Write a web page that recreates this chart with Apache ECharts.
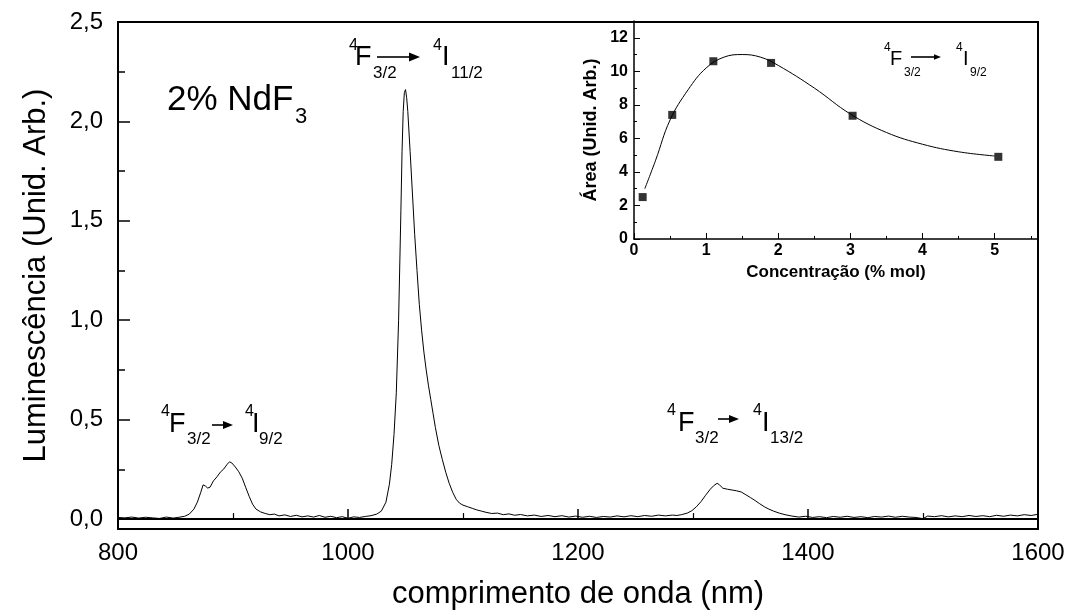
<!DOCTYPE html>
<html>
<head>
<meta charset="utf-8">
<title>Luminescência NdF3</title>
<script src="https://cdn.jsdelivr.net/npm/echarts@6.0.0/dist/echarts.min.js"></script>
<style>
  html, body { margin: 0; padding: 0; background: #fff; }
  #chart { width: 1072px; height: 616px; }
</style>
</head>
<body>
<div id="chart"></div>
<script>
// espectro principal (nm / unid. arb.)
const wavelength = [
  800, 806, 812, 818, 824, 830, 836, 842, 848, 853,
  858, 862, 866, 869, 872, 874, 876, 878, 880, 883,
  886, 889, 892, 895, 897, 899, 902, 905, 908, 911,
  914, 917, 920, 924, 928, 932, 936, 940, 945, 950,
  955, 960, 965, 970, 975, 980, 985, 990, 995, 1000,
  1005, 1010, 1015, 1020, 1025, 1029, 1033, 1036, 1038, 1040,
  1042, 1044, 1046, 1047, 1048, 1049, 1050, 1051, 1052, 1054,
  1056, 1058, 1060, 1062, 1064, 1066, 1068, 1070, 1072, 1074,
  1076, 1079, 1082, 1085, 1088, 1091, 1094, 1097, 1100, 1104,
  1108, 1112, 1116, 1120, 1125, 1130, 1135, 1140, 1145, 1150,
  1156, 1162, 1168, 1174, 1180, 1186, 1192, 1198, 1204, 1210,
  1216, 1222, 1228, 1234, 1240, 1246, 1252, 1258, 1264, 1270,
  1276, 1282, 1286, 1290, 1295, 1299, 1303, 1307, 1311, 1315,
  1318, 1321, 1323, 1326, 1330, 1334, 1338, 1342, 1346, 1350,
  1354, 1358, 1362, 1366, 1370, 1375, 1380, 1386, 1392, 1398,
  1404, 1410, 1416, 1422, 1428, 1434, 1440, 1446, 1452, 1458,
  1464, 1470, 1476, 1482, 1488, 1494, 1500, 1504, 1510, 1516,
  1522, 1528, 1534, 1540, 1546, 1552, 1558, 1564, 1570, 1576,
  1582, 1588, 1594, 1600
]
const luminescence = [
  0.008, 0.006, 0.010, 0.005, 0.009, 0.006, 0.003, 0.010, 0.005, 0.009,
  0.014, 0.025, 0.050, 0.085, 0.135, 0.172, 0.166, 0.156, 0.160, 0.192,
  0.212, 0.236, 0.252, 0.276, 0.288, 0.282, 0.262, 0.238, 0.206, 0.160,
  0.115, 0.075, 0.050, 0.036, 0.028, 0.022, 0.025, 0.016, 0.021, 0.013,
  0.019, 0.011, 0.016, 0.010, 0.018, 0.009, 0.014, 0.007, 0.012, 0.004,
  0.011, 0.008, 0.013, 0.017, 0.025, 0.040, 0.085, 0.175, 0.275, 0.425,
  0.635, 1.000, 1.550, 1.850, 2.050, 2.145, 2.160, 2.120, 2.050, 1.850,
  1.640, 1.430, 1.250, 1.080, 0.950, 0.840, 0.750, 0.670, 0.600, 0.530,
  0.460, 0.370, 0.300, 0.235, 0.180, 0.135, 0.100, 0.080, 0.070, 0.062,
  0.054, 0.046, 0.040, 0.034, 0.028, 0.030, 0.022, 0.026, 0.019, 0.023,
  0.016, 0.020, 0.013, 0.018, 0.012, 0.017, 0.010, 0.015, 0.009, 0.014,
  0.008, 0.013, 0.010, 0.016, 0.011, 0.017, 0.012, 0.018, 0.014, 0.020,
  0.016, 0.020, 0.018, 0.022, 0.030, 0.042, 0.062, 0.088, 0.120, 0.150,
  0.168, 0.180, 0.172, 0.155, 0.150, 0.146, 0.142, 0.136, 0.122, 0.108,
  0.093, 0.077, 0.062, 0.050, 0.040, 0.030, 0.022, 0.015, 0.010, 0.014,
  0.008, 0.012, 0.007, 0.013, 0.009, 0.014, 0.008, 0.012, 0.007, 0.013,
  0.010, 0.015, 0.009, 0.014, 0.010, 0.008, 0.002, 0.015, 0.012, 0.017,
  0.011, 0.016, 0.012, 0.018, 0.013, 0.017, 0.012, 0.019, 0.014, 0.020,
  0.016, 0.022, 0.018, 0.024
]
const yTicks = [0, 0.5, 1, 1.5, 2, 2.5]
const yMinorTicks = [0.25, 0.75, 1.25, 1.75, 2.25]

// inset: área da banda 4F3/2 -> 4I9/2 vs concentração
const concentration = [0.12, 0.53, 1.1, 1.9, 3.03, 5.05]
const area = [2.5, 7.4, 10.6, 10.5, 7.35, 4.9]
const fitConcentration = [0.15, 0.3, 0.5, 0.75, 1.0, 1.25, 1.5, 1.75, 2.0, 2.5, 3.0, 3.5, 4.0, 4.5, 5.0]
const fitArea = [3.0, 4.7, 7.1, 8.9, 10.2, 10.85, 11.0, 10.85, 10.35, 9.0, 7.45, 6.35, 5.65, 5.2, 4.95]
const insetXTicks = [0, 1, 2, 3, 4, 5]
const insetXMinor = [0.5, 1.5, 2.5, 3.5, 4.5, 5.5]
const insetYTicks = [0, 2, 4, 6, 8, 10, 12]
const insetYMinor = [1, 3, 5, 7, 9, 11]

const FONT = "'Liberation Sans', Arial, Helvetica, sans-serif"

const chart = echarts.init(document.getElementById('chart'))

// pedaços de texto para as transições
const txt = (text, x, y, size, bold) => ({
  type: 'text',
  x: x,
  y: y,
  style: {
    text: text,
    font: (bold ? 'bold ' : '') + size + 'px ' + FONT,
    fill: '#000',
    align: 'left',
    verticalAlign: 'middle'
  }
})

const arrow = (x1, x2, y, head) => [
  {
    type: 'line',
    shape: { x1: x1, y1: y, x2: x2 - head, y2: y },
    style: { stroke: '#000', lineWidth: head > 6 ? 1.6 : 1.2 }
  },
  {
    type: 'polygon',
    shape: { points: [[x2, y], [x2 - head, y - head * 0.4], [x2 - head, y + head * 0.4]] },
    style: { fill: '#000' }
  }
]

const transition = (c) => [
  txt('4', c.sup1, c.ySup, Math.round(c.fs * 0.58)),
  txt('F', c.F, c.yMain, c.fs),
  txt('3/2', c.sub1, c.ySub, Math.round(c.fs * 0.62)),
  ...arrow(c.a1, c.a2, c.ay, c.head),
  txt('4', c.sup2, c.ySup, Math.round(c.fs * 0.58)),
  txt('I', c.I, c.yMain, c.fs),
  txt(c.lower, c.sub2, c.ySub, Math.round(c.fs * 0.62))
]

const commaFmt = (v) => v.toFixed(1).replace('.', ',')

const option = {
  backgroundColor: '#fff',
  animation: false,
  grid: [
    { left: 118, right: 34, top: 22, bottom: 87, show: true, borderColor: '#000', borderWidth: 2 },
    { left: 634, right: 34, top: 21, bottom: 377 }
  ],
  xAxis: [
    {
      gridIndex: 0,
      type: 'value',
      min: 800,
      max: 1600,
      interval: 200,
      name: 'comprimento de onda (nm)',
      nameLocation: 'middle',
      nameGap: 50,
      nameTextStyle: { fontFamily: FONT, fontSize: 31, color: '#000' },
      axisLine: { lineStyle: { color: '#000', width: 2 } },
      axisTick: { inside: true, length: 10, lineStyle: { color: '#000', width: 1.5 } },
      minorTick: { show: true, splitNumber: 2, length: 6, lineStyle: { color: '#000', width: 1.2 } },
      axisLabel: { formatter: (v) => String(v), fontFamily: FONT, fontSize: 24, color: '#000', margin: 12 },
      splitLine: { show: false }
    },
    {
      gridIndex: 1,
      type: 'value',
      position: 'bottom',
      min: 0,
      max: 5.6,
      name: 'Concentração (% mol)',
      nameLocation: 'middle',
      nameGap: 25,
      nameTextStyle: { fontFamily: FONT, fontSize: 17, fontWeight: 'bold', color: '#000' },
      axisLine: { lineStyle: { color: '#000', width: 1.5 } },
      axisTick: { inside: true, length: 6, customValues: insetXTicks, lineStyle: { color: '#000' } },
      axisLabel: { customValues: insetXTicks, fontFamily: FONT, fontSize: 16, fontWeight: 'bold', color: '#000', margin: 4 },
      splitLine: { show: false }
    },
    {
      gridIndex: 1,
      type: 'value',
      position: 'bottom',
      min: 0,
      max: 5.6,
      axisLine: { show: false },
      axisTick: { inside: true, length: 3, customValues: insetXMinor, lineStyle: { color: '#000' } },
      axisLabel: { show: false },
      splitLine: { show: false }
    }
  ],
  yAxis: [
    {
      gridIndex: 0,
      type: 'value',
      position: 'left',
      min: -0.05,
      max: 2.5,
      name: 'Luminescência (Unid. Arb.)',
      nameLocation: 'middle',
      nameGap: 66,
      nameTextStyle: { fontFamily: FONT, fontSize: 31, color: '#000' },
      axisLine: { show: true, lineStyle: { color: '#000', width: 2 } },
      axisTick: { inside: true, length: 12, customValues: yTicks, lineStyle: { color: '#000', width: 1.5 } },
      axisLabel: { customValues: yTicks, formatter: commaFmt, fontFamily: FONT, fontSize: 24, color: '#000', margin: 15 },
      splitLine: { show: false }
    },
    {
      gridIndex: 0,
      type: 'value',
      position: 'left',
      min: -0.05,
      max: 2.5,
      axisLine: { show: false },
      axisTick: { inside: true, length: 7, customValues: yMinorTicks, lineStyle: { color: '#000', width: 1.5 } },
      axisLabel: { show: false },
      splitLine: { show: false }
    },
    {
      gridIndex: 1,
      type: 'value',
      position: 'left',
      min: 0,
      max: 13,
      name: 'Área (Unid. Arb.)',
      nameLocation: 'middle',
      nameGap: 34,
      nameTextStyle: { fontFamily: FONT, fontSize: 18, fontWeight: 'bold', color: '#000' },
      axisLine: { show: true, lineStyle: { color: '#000', width: 1.5 } },
      axisTick: { inside: true, length: 6, customValues: insetYTicks, lineStyle: { color: '#000' } },
      axisLabel: { customValues: insetYTicks, fontFamily: FONT, fontSize: 16, fontWeight: 'bold', color: '#000', margin: 6 },
      splitLine: { show: false }
    },
    {
      gridIndex: 1,
      type: 'value',
      position: 'left',
      min: 0,
      max: 13,
      axisLine: { show: false },
      axisTick: { inside: true, length: 3, customValues: insetYMinor, lineStyle: { color: '#000' } },
      axisLabel: { show: false },
      splitLine: { show: false }
    }
  ],
  series: [
    {
      name: 'espectro',
      type: 'line',
      xAxisIndex: 0,
      yAxisIndex: 0,
      data: wavelength.map((w, i) => [w, luminescence[i]]),
      showSymbol: false,
      symbol: 'none',
      smooth: false,
      lineStyle: { color: '#000', width: 1 }
    },
    {
      name: 'ajuste',
      type: 'line',
      xAxisIndex: 1,
      yAxisIndex: 2,
      data: fitConcentration.map((c, i) => [c, fitArea[i]]),
      symbol: 'none',
      smooth: 0.4,
      lineStyle: { color: '#000', width: 1 }
    },
    {
      name: 'área',
      type: 'scatter',
      xAxisIndex: 1,
      yAxisIndex: 2,
      data: concentration.map((c, i) => [c, area[i]]),
      symbol: 'rect',
      symbolSize: 8,
      itemStyle: { color: '#000' }
    }
  ],
  graphic: [
    txt('2% NdF', 167, 100, 35),
    txt('3', 295, 117, 22),
    ...transition({ fs: 27, sup1: 349, F: 355, sub1: 373, a1: 377, a2: 420, ay: 57, head: 11, sup2: 433, I: 442, sub2: 451, lower: '11/2', yMain: 58, ySup: 46, ySub: 73 }),
    ...transition({ fs: 27, sup1: 161, F: 169, sub1: 187, a1: 212, a2: 233, ay: 425, head: 10, sup2: 245, I: 252, sub2: 259, lower: '9/2', yMain: 425, ySup: 412, ySub: 439 }),
    ...transition({ fs: 27, sup1: 667, F: 678, sub1: 695, a1: 718, a2: 739, ay: 419, head: 10, sup2: 753, I: 762, sub2: 770, lower: '13/2', yMain: 424, ySup: 411, ySub: 438 }),
    ...transition({ fs: 20, sup1: 884, F: 890, sub1: 904, a1: 911, a2: 941, ay: 57, head: 7, sup2: 956, I: 963, sub2: 970, lower: '9/2', yMain: 59, ySup: 48, ySub: 73 })
  ]
}

chart.setOption(option)

window.addEventListener('resize', () => chart.resize())
</script>
</body>
</html>
